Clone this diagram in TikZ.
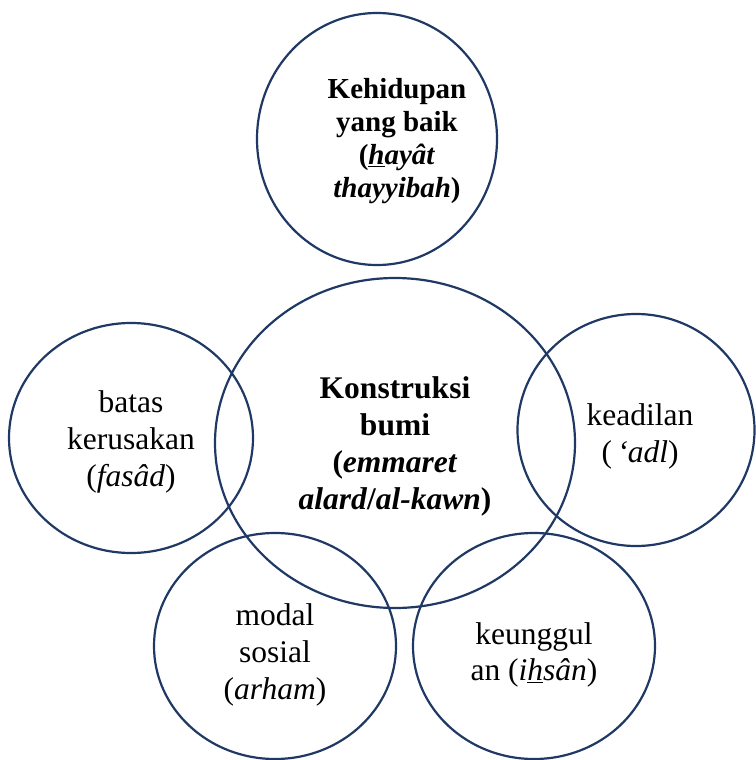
\documentclass[tikz,border=0pt]{standalone}
\usepackage{fontspec}
\setmainfont{Liberation Serif}
\usetikzlibrary{shapes.geometric}
\definecolor{navy}{HTML}{1F3864}

\begin{document}
\begin{tikzpicture}[x=1pt, y=-1pt,
	bubble/.style={ellipse, draw=navy, line width=2.2pt, inner sep=0pt},
	main/.style={align=center, inner sep=0pt, font=\fontsize{31.5}{37}\selectfont},
	heading/.style={align=center, inner sep=0pt, font=\fontsize{29}{33}\selectfont\bfseries}
	]

	\useasboundingbox (0,0) rectangle (755,760);

		\node (hayat) [bubble, minimum width=240, minimum height=252] at (377,139) {};
		\node (konstruksi) [bubble, minimum width=360, minimum height=330] at (395,443) {};
				\node (fasad) [bubble, minimum width=244, minimum height=230] at (131,438) {};
				\node (adl) [bubble, minimum width=237, minimum height=232] at (636,430) {};
				\node (arham) [bubble, minimum width=242, minimum height=226] at (275,646) {};
				\node (ihsan) [bubble, minimum width=242, minimum height=226] at (534,646) {};

	\node (hayattext) [heading] at (397,141) {Kehidupan\\yang baik\\(\textit{\underline{h}ayât}\\\textit{thayyibah})};
	\node (konstruksitext) [main, font=\fontsize{31.5}{37}\selectfont\bfseries] at (395,446) {Konstruksi\\bumi\\(\textit{emmaret}\\\textit{alard}/\textit{al-kawn})};
	\node (fasadtext) [main] at (131,442) {batas\\kerusakan\\(\textit{fasâd})};
	\node (adltext) [main] at (640,436) {keadilan\\(\,\textit{‘adl})};
	\node (arhamtext) [main] at (275,655) {modal\\sosial\\(\textit{arham})};
	\node (ihsantext) [main, font=\fontsize{31.5}{35.5}\selectfont] at (534,655) {keunggul\\an (\textit{i\underline{h}sân})};

	\end{tikzpicture}
\end{document}
